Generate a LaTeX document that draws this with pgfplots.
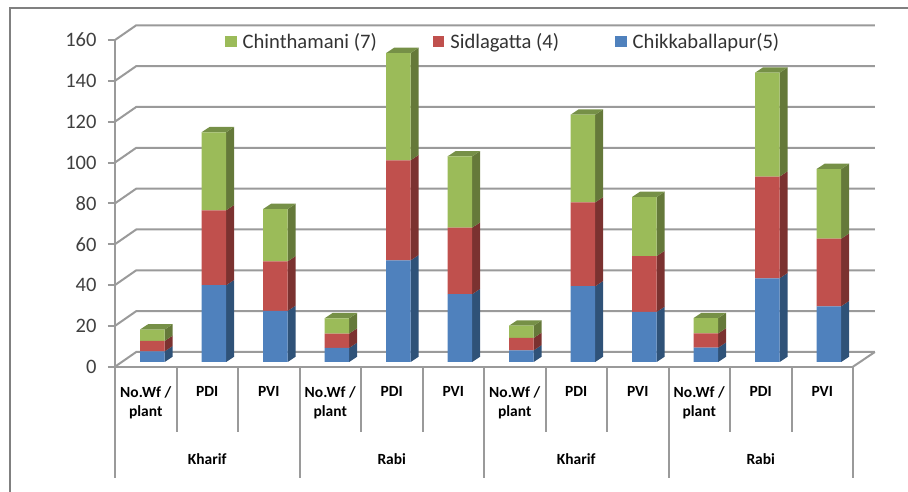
\documentclass[border=0pt]{standalone}
\usepackage{fontspec}
\setmainfont{Carlito}
\usepackage{pgfplots}
\usepackage{pgfplotstable}
\pgfplotsset{compat=1.18}
\definecolor{axisgray}{HTML}{9A9A9A}
\definecolor{framegray}{HTML}{808080}
\definecolor{cblue}{HTML}{4F81BD}
\definecolor{cred}{HTML}{C0504D}
\definecolor{cgreen}{HTML}{9BBB59}
\definecolor{sblue}{HTML}{2F5278}
\definecolor{sred}{HTML}{7B3230}
\definecolor{sgreen}{HTML}{65793A}
\definecolor{tgreen}{HTML}{769047}
\pgfplotstableread{
x b r g
0.5 5.2 5.1 5.6
1.5 37.6 36.7 38.2
2.5 25 24.3 25.6
3.5 6.9 7 7.5
4.5 49.8 49 52.5
5.5 33.2 32.6 34.9
6.5 5.7 6.1 6
7.5 37.1 41.1 42.9
8.5 24.5 27.4 28.9
9.5 7 7 7.5
10.5 41 49.8 50.9
11.5 27.3 33.1 34.1
}\datatbl
\newcommand{\sideface}[4]{%
  \pgfmathsetmacro\xa{#1+0.2}%
  \pgfmathsetmacro\xb{\xa+0.13}%
  \pgfmathsetmacro\ya{#2+2.6}%
  \pgfmathsetmacro\yb{#3+2.6}%
  \edef\temp{\noexpand\addplot[fill=#4,draw=none,mark=none] coordinates {(\xa,#2) (\xb,\ya) (\xb,\yb) (\xa,#3)};}%
  \temp}
\newcommand{\topface}[3]{%
  \pgfmathsetmacro\xa{#1-0.2}%
  \pgfmathsetmacro\xb{#1+0.2}%
  \pgfmathsetmacro\xc{\xb+0.13}%
  \pgfmathsetmacro\xd{\xa+0.13}%
  \pgfmathsetmacro\ya{#2+2.6}%
  \edef\temp{\noexpand\addplot[fill=#3,draw=none,mark=none] coordinates {(\xa,#2) (\xb,#2) (\xc,\ya) (\xd,\ya)};}%
  \temp}
\pgfplotsset{common/.style={
  scale only axis, width=738pt, height=326.7pt,
  xmin=0, xmax=12, ymin=0, ymax=160,
  anchor=south west, clip=false}}
\begin{document}
\begin{tikzpicture}[x=1pt,y=1pt]
\useasboundingbox (0,0) rectangle (908,492);
\draw[framegray,line width=1.5pt] (10,0)--(10,484)--(908,484);
% walls, grid and axes
\begin{axis}[common, at={(115pt,125.3pt)},
  axis x line*=bottom, axis y line*=left,
  axis line style={axisgray,line width=2pt,-},
  tick align=outside,
  major tick length=7pt,
  ytick={0,20,...,160},
  y tick style={draw=axisgray,line width=2pt},
  x tick style={draw=none},
  xtick={0.5,1.5,...,11.5},
  xticklabels={{No.Wf /\\plant},PDI,PVI,{No.Wf /\\plant},PDI,PVI,{No.Wf /\\plant},PDI,PVI,{No.Wf /\\plant},PDI,PVI},
  xticklabel style={align=center,anchor=north,inner sep=0pt,yshift=-13pt,
    font=\fontsize{15.5}{18.5}\selectfont\bfseries,text=black},
  yticklabel style={font=\fontsize{20.5}{22}\selectfont,text=black!75,xshift=-8pt},
  /pgf/number format/assume math mode=true,
]
\pgfplotsinvokeforeach{0,20,...,160}{
  \pgfmathsetmacro\ya{#1+7.2}
  \edef\temp{\noexpand\addplot[axisgray,line width=2pt,mark=none] coordinates {(0,#1) (0.345,\ya) (12.355,\ya)};}
  \temp
}
\addplot[axisgray,line width=2pt,mark=none] coordinates {(12,0) (12.355,7.2)};
\addplot[axisgray,line width=2pt,mark=none] coordinates {(0,0) (0,-54.5)};
\addplot[axisgray,line width=2pt,mark=none] coordinates {(3,0) (3,-54.5)};
\addplot[axisgray,line width=2pt,mark=none] coordinates {(6,0) (6,-54.5)};
\addplot[axisgray,line width=2pt,mark=none] coordinates {(9,0) (9,-54.5)};
\addplot[axisgray,line width=2pt,mark=none] coordinates {(12,0) (12,-54.5)};
\pgfplotsinvokeforeach{1,2,4,5,7,8,10,11}{
  \addplot[axisgray,line width=2pt,mark=none] coordinates {(#1,0) (#1,-32)};
}
\node[font=\fontsize{15.5}{18.5}\selectfont\bfseries] at (axis cs:1.5,-45.2) {Kharif};
\node[font=\fontsize{15.5}{18.5}\selectfont\bfseries] at (axis cs:4.5,-45.2) {Rabi};
\node[font=\fontsize{15.5}{18.5}\selectfont\bfseries] at (axis cs:7.5,-45.2) {Kharif};
\node[font=\fontsize{15.5}{18.5}\selectfont\bfseries] at (axis cs:10.5,-45.2) {Rabi};
\end{axis}
% side and top faces of the bars
\begin{axis}[common, at={(121.6pt,130pt)}, hide axis]
\pgfplotsinvokeforeach{0,...,11}{
  \pgfplotstablegetelem{#1}{x}\of\datatbl \let\vx\pgfplotsretval
  \pgfplotstablegetelem{#1}{b}\of\datatbl \let\vb\pgfplotsretval
  \pgfplotstablegetelem{#1}{r}\of\datatbl \let\vr\pgfplotsretval
  \pgfplotstablegetelem{#1}{g}\of\datatbl \let\vg\pgfplotsretval
  \pgfmathsetmacro\cb{\vb}
  \pgfmathsetmacro\cr{\vb+\vr}
  \pgfmathsetmacro\cg{\vb+\vr+\vg}
  \let\sb\cb \let\sr\cr \let\sg\cg \let\sx\vx
  \sideface{\sx}{0}{\sb}{sblue}
  \sideface{\sx}{\sb}{\sr}{sred}
  \sideface{\sx}{\sr}{\sg}{sgreen}
  \topface{\sx}{\sg}{tgreen}
}
\end{axis}
% front faces of the bars
\begin{axis}[common, at={(121.6pt,130pt)}, hide axis,
  ybar stacked, bar width=0.4,
  reverse legend,
  legend columns=3,
  legend cell align=left,
  legend style={at={(0.14,0.9795)},anchor=west,draw=none,fill=none,inner sep=0pt,
    font=\fontsize{20.6}{22}\selectfont,text=black!80,
    /tikz/every even column/.append style={column sep=54pt}},
  legend image code/.code={\fill[#1,draw=none] (0,-5.5pt) rectangle (11.5pt,5.5pt);\path (15.5pt,0pt);},
]
\addplot[fill=cblue,draw=none] table[x=x,y=b] {\datatbl};
\addplot[fill=cred,draw=none] table[x=x,y=r] {\datatbl};
\addplot[fill=cgreen,draw=none] table[x=x,y=g] {\datatbl};
\addlegendentry{Chikkaballapur(5)}
\addlegendentry{Sidlagatta (4)}
\addlegendentry{Chinthamani (7)}
\end{axis}
\end{tikzpicture}
\end{document}
